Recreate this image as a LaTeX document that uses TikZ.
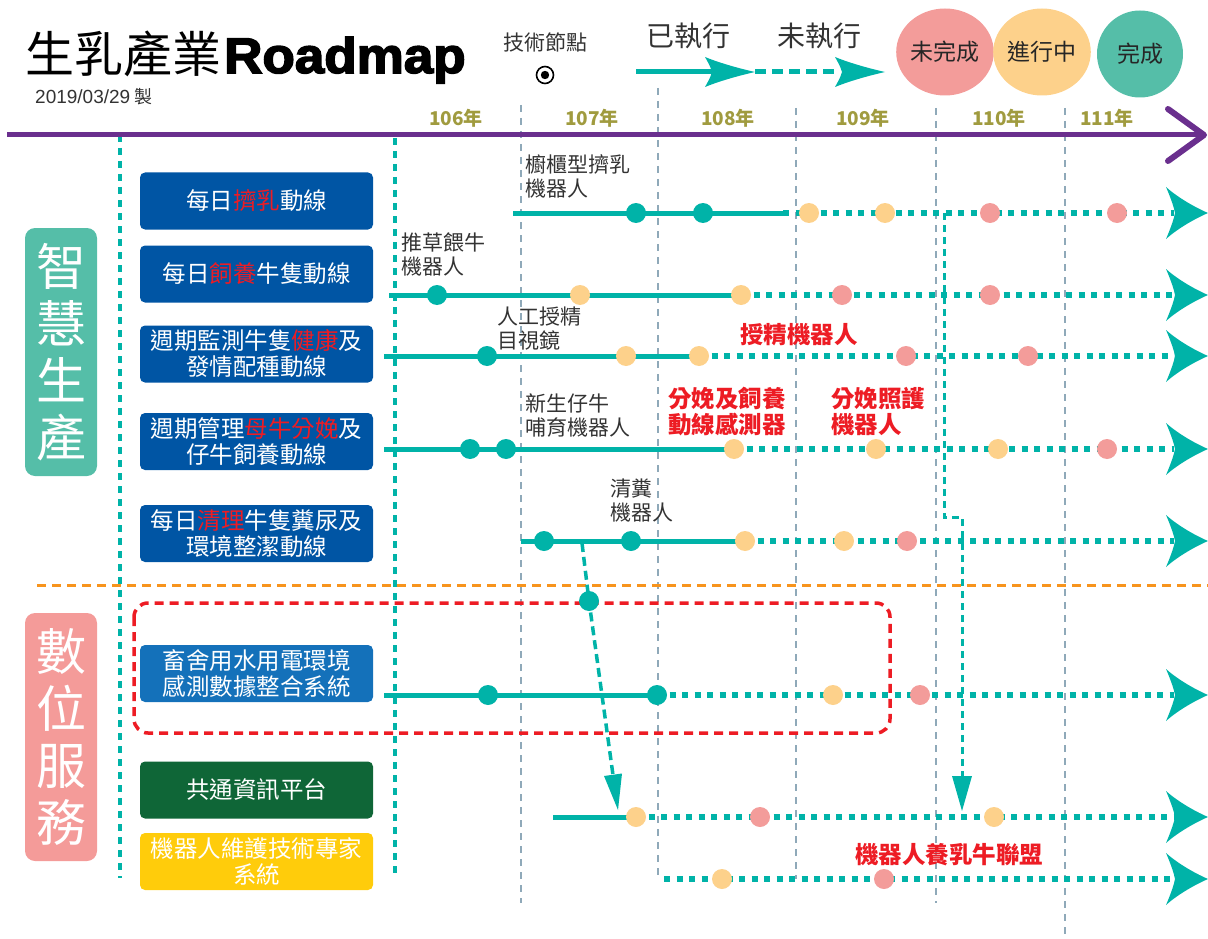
\documentclass[tikz,border=0pt]{standalone}
\usepackage{fontspec}
\usetikzlibrary{shapes.geometric}
\setmainfont{Noto Sans CJK TC}
\newfontfamily\heavyfont{Liberation Sans}[BoldFeatures={FakeBold=3}]
\newfontfamily\latinsans{Liberation Sans}
\definecolor{tealA}{HTML}{00B3A8}
\definecolor{dotO}{HTML}{FDD18B}
\definecolor{dotP}{HTML}{F39C9A}
\definecolor{mint}{HTML}{55BEA8}
\definecolor{catP}{HTML}{F49B99}
\definecolor{boxB}{HTML}{0055A4}
\definecolor{boxBB}{HTML}{1471BA}
\definecolor{boxG}{HTML}{0F6637}
\definecolor{boxY}{HTML}{FFCC0B}
\definecolor{redT}{HTML}{ED1C24}
\definecolor{grayL}{HTML}{8FA9B9}
\definecolor{purp}{HTML}{6A2F8E}
\definecolor{oliveY}{HTML}{A09B3F}
\definecolor{orangeL}{HTML}{F7941D}
\definecolor{txtD}{HTML}{333333}
\newcommand\rd[1]{{\color{redT}#1}}
\begin{document}
\begin{tikzpicture}[x=1pt,y=-1pt,
  tdot/.style={circle,fill=tealA,minimum size=20pt,inner sep=0pt},
  odot/.style={circle,fill=dotO,minimum size=20pt,inner sep=0pt},
  pdot/.style={circle,fill=dotP,minimum size=20pt,inner sep=0pt},
  trkS/.style={tealA,line width=5pt},
  trkD/.style={tealA,line width=5.5pt,dash pattern=on 6pt off 6.5pt},
  grayv/.style={grayL,line width=2pt,dash pattern=on 7pt off 6pt},
  tealv/.style={tealA,line width=3.5pt,dash pattern=on 7pt off 6pt},
  conn/.style={tealA,line width=3.5pt,dash pattern=on 9pt off 5pt},
  rbox/.style={rounded corners=5pt,minimum width=233pt,minimum height=57pt,text=white,align=center,inner sep=0pt,font=\fontsize{23.5}{26}\selectfont},
  catbox/.style={rounded corners=10pt,minimum width=72pt,minimum height=248pt,text=white,align=center,inner sep=0pt,font=\fontsize{50}{57}\selectfont},
  blab/.style={anchor=north west,inner sep=0pt,align=left,text=txtD,font=\fontsize{21}{24}\selectfont},
  rlab/.style={anchor=north west,inner sep=0pt,align=left,text=redT,font=\fontsize{23.5}{26}\selectfont\bfseries},
  yr/.style={text=oliveY,font=\fontsize{19}{22}\selectfont\bfseries,inner sep=0pt},
  leg/.style={ellipse,minimum width=86pt,minimum height=87pt,inner sep=0pt,text=black!85,font=\fontsize{23}{25}\selectfont},
  bighead/.pic={\fill[tealA] (0,0) .. controls (-16,-7) and (-32,-17) .. (-42,-26) .. controls (-36,-12) and (-34,-5) .. (-33,0) .. controls (-34,5) and (-36,12) .. (-42,26) .. controls (-32,17) and (-16,7) .. cycle;},
  smallhead/.pic={\fill[tealA] (0,0) .. controls (-18,-4) and (-38,-10) .. (-50,-15) .. controls (-45,-6) .. (-43,0) .. controls (-45,6) .. (-50,15) .. controls (-38,10) and (-18,4) .. cycle;}
]
\useasboundingbox (0,0) rectangle (1208,939);

% gray year dividers
\draw[grayv] (521,105) coordinate (g1t) -- (521,903) coordinate (g1b);
\draw[grayv] (658,88) coordinate (g2t) -- (658,879) coordinate (g2b);
\draw[grayv] (796,108) coordinate (g3t) -- (796,879) coordinate (g3b);
\draw[grayv] (936,108) coordinate (g4t) -- (936,903) coordinate (g4b);
\draw[grayv] (1065,108) coordinate (g5t) -- (1065,939) coordinate (g5b);

% teal verticals
\draw[tealv] (120,135) coordinate (v1t) -- (120,878) coordinate (v1b);
\draw[tealv] (395,138) coordinate (v2t) -- (395,877) coordinate (v2b);

% orange separator
\draw[orangeL,line width=3pt,dash pattern=on 9pt off 6pt] (37,585) coordinate (oa) -- (1208,585) coordinate (ob);

% red dashed region
\draw[redT,line width=3.5pt,dash pattern=on 9pt off 6pt,rounded corners=14pt] (134,603) coordinate (ra) rectangle (890,733) coordinate (rb);

% timeline
\draw[purp,line width=5pt] (7,135) coordinate (tl0) -- (1200,135) coordinate (tl1);
\draw[purp,line width=6pt,line cap=round,line join=round] (1168,109) coordinate (ch1) -- (1204,135) coordinate (ch2) -- (1168,161) coordinate (ch3);

% years
\node[yr] (y106) at (456,118) {106年};
\node[yr] (y107) at (592,118) {107年};
\node[yr] (y108) at (728,118) {108年};
\node[yr] (y109) at (863,118) {109年};
\node[yr] (y110) at (999,118) {110年};
\node[yr] (y111) at (1107,118) {111年};

% title
\node[anchor=base west,inner sep=0pt] (title) at (25,73) {\fontsize{49}{50}\selectfont 生乳產業\hspace{3pt}\scalebox{1.06}[1]{\fontsize{50}{50}\heavyfont\bfseries Roadmap}};
\node[anchor=west,inner sep=0pt,text=txtD] (date) at (35,97) {\fontsize{19}{20}\selectfont{\latinsans 2019/03/29} \fontsize{18}{20}\selectfont 製};

% legend
\node[inner sep=0pt,text=txtD,font=\fontsize{21}{22}\selectfont] (tnode) at (545,42) {技術節點};
\node[circle,draw=black,line width=1.6pt,minimum size=17pt,inner sep=0pt] (sym) at (545,75) {};
\fill[black] (sym.center) circle (4.2pt);
\node[inner sep=0pt,text=txtD,font=\fontsize{28}{30}\selectfont] (done) at (688,36) {已執行};
\node[inner sep=0pt,text=txtD,font=\fontsize{28}{30}\selectfont] (todo) at (819,36) {未執行};
\coordinate (la0) at (636,72);
\coordinate (la1) at (712,72);
\coordinate (la2) at (755,72);
\coordinate (la3) at (840,72);
\draw[tealA,line width=5pt] (la0) -- (la1);
\pic at (la2) {smallhead};
\draw[tealA,line width=5pt,dash pattern=on 11pt off 6pt] (la2) -- (la3);
\pic at (885,72) {smallhead};
\node[leg,fill=dotP] (l1) at (945,52) {未完成};
\node[leg,fill=dotO] (l2) at (1042,52) {進行中};
\node[leg,fill=mint] (l3) at (1140,54) {完成};

% category boxes
\node[catbox,fill=mint] (cat1) at (61,352) {智\\慧\\生\\產};
\node[catbox,fill=catP] (cat2) at (61,737) {數\\位\\服\\務};

% blue boxes
\node[rbox,fill=boxB] (b1) at (256.5,201) {每日\rd{擠乳}動線};
\node[rbox,fill=boxB] (b2) at (256.5,274) {每日\rd{飼養}牛隻動線};
\node[rbox,fill=boxB] (b3) at (256.5,354) {週期監測牛隻\rd{健康}及\\發情配種動線};
\node[rbox,fill=boxB] (b4) at (256.5,441.5) {週期管理\rd{母牛分娩}及\\仔牛飼養動線};
\node[rbox,fill=boxB] (b5) at (256.5,533.5) {每日\rd{清理}牛隻糞尿及\\環境整潔動線};
\node[rbox,fill=boxBB] (b6) at (256.5,673.5) {畜舍用水用電環境\\感測數據整合系統};
\node[rbox,fill=boxG] (b7) at (256.5,790) {共通資訊平台};
\node[rbox,fill=boxY] (b8) at (256.5,861.5) {機器人維護技術專家\\系統};

% connectors (dashed)
\node[tdot] (cdot) at (589,601) {};
\coordinate (c1s) at (582,543);
\coordinate (c1b) at (613,775);
\draw[conn] (c1s) -- (cdot.center) -- (c1b);
\fill[tealA] (604,776) -- (622,773.5) -- (618,810) -- cycle;
\coordinate (c2s) at (944,213);
\coordinate (c2k1) at (944,517);
\coordinate (c2k2) at (962,517);
\coordinate (c2b) at (962,777);
\draw[conn,dash pattern=on 7pt off 5pt,line width=3pt] (c2s) -- (c2k1) -- (c2k2) -- (c2b);
\fill[tealA] (952,776) -- (972,776) -- (962,811) -- cycle;

% tracks
\newcommand\track[4]{%
  \coordinate (#4s) at (#2,#1); \coordinate (#4m) at (#3,#1); \coordinate (#4e) at (1174,#1);
  \draw[trkS] (#4s) -- (#4m); \draw[trkD] (#4m) -- (#4e);
  \pic at (1208,#1) {bighead};}
\track{213}{513}{783}{r1}
\track{295}{389}{741}{r2}
\track{356}{384}{699}{r3}
\track{449}{384}{734}{r4}
\track{541}{521}{745}{r5}
\track{695}{384}{657}{r6}
\track{817}{553}{636}{r7}
\coordinate (r8s) at (664,879); \coordinate (r8e) at (1174,879);
\draw[trkD] (r8s) -- (r8e);
\pic at (1208,879) {bighead};

% dots
\node[tdot] (d11) at (636,213) {}; \node[tdot] (d12) at (703,213) {};
\node[odot] (d13) at (809,213) {}; \node[odot] (d14) at (885,213) {};
\node[pdot] (d15) at (990,213) {}; \node[pdot] (d16) at (1117,213) {};

\node[tdot] (d21) at (437,295) {}; \node[odot] (d22) at (580,295) {};
\node[odot] (d23) at (741,295) {}; \node[pdot] (d24) at (842,295) {};
\node[pdot] (d25) at (990,295) {};

\node[tdot] (d31) at (487,356) {}; \node[odot] (d32) at (626,356) {};
\node[odot] (d33) at (699,356) {}; \node[pdot] (d34) at (906,356) {};
\node[pdot] (d35) at (1028,356) {};

\node[tdot] (d41) at (470,449) {}; \node[tdot] (d42) at (506,449) {};
\node[odot] (d43) at (734,449) {}; \node[odot] (d44) at (876,449) {};
\node[odot] (d45) at (998,449) {}; \node[pdot] (d46) at (1107,449) {};

\node[tdot] (d51) at (544,541) {}; \node[tdot] (d52) at (631,541) {};
\node[odot] (d53) at (745,541) {}; \node[odot] (d54) at (844,541) {};
\node[pdot] (d55) at (907,541) {};

\node[tdot] (d61) at (488,695) {}; \node[tdot] (d62) at (657,695) {};
\node[odot] (d63) at (833,695) {}; \node[pdot] (d64) at (920,695) {};

\node[odot] (d71) at (636,817) {}; \node[pdot] (d72) at (760,817) {};
\node[odot] (d73) at (994,817) {};

\node[odot] (d81) at (722,879) {}; \node[pdot] (d82) at (884,879) {};

% labels
\node[blab] (t1) at (525,154) {櫥櫃型擠乳\\機器人};
\node[blab] (t2) at (401,232) {推草餵牛\\機器人};
\node[blab] (t3) at (497,307) {人工授精\\目視鏡};
\node[blab] (t4) at (525,394) {新生仔牛\\哺育機器人};
\node[blab] (t5) at (610,479) {清糞\\機器人};
\node[rlab] (t6) at (740,323) {授精機器人};
\node[rlab] (t7) at (668,387) {分娩及飼養\\動線感測器};
\node[rlab] (t8) at (831,387) {分娩照護\\機器人};
\node[rlab] (t9) at (855,843) {機器人養乳牛聯盟};
\end{tikzpicture}
\end{document}
